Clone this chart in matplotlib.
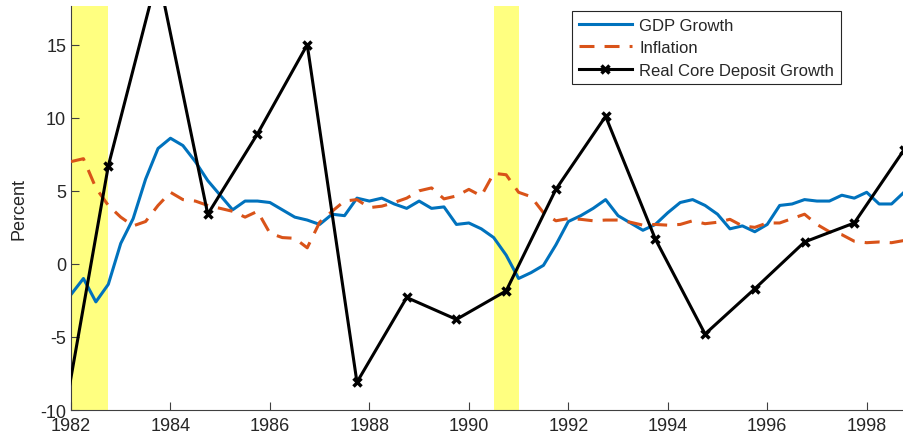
import numpy as np
import matplotlib
matplotlib.use("Agg")
import matplotlib.pyplot as plt

# quarterly series, 1982Q1 .. 1998Q4
gdp_growth = [-2.1, -1.0, -2.6, -1.4, 1.4, 3.1, 5.8, 7.9, 8.6, 8.1, 7.0, 5.7,
              4.7, 3.7, 4.3, 4.3, 4.2, 3.7, 3.2, 3.0, 2.7, 3.4, 3.3, 4.5,
              4.3, 4.5, 4.1, 3.8, 4.3, 3.8, 3.9, 2.7, 2.8, 2.4, 1.8, 0.6,
              -1.0, -0.6, -0.1, 1.3, 2.9, 3.3, 3.8, 4.4, 3.3, 2.8, 2.3, 2.7,
              3.5, 4.2, 4.4, 4.0, 3.4, 2.4, 2.6, 2.2, 2.7, 4.0, 4.1, 4.4,
              4.3, 4.3, 4.7, 4.5, 4.9, 4.1, 4.1, 4.9]
inflation = [7.0, 7.2, 5.2, 4.0, 3.2, 2.6, 2.9, 4.0, 4.9, 4.4, 4.3, 4.0,
             3.8, 3.6, 3.2, 3.6, 2.1, 1.8, 1.75, 1.1, 2.85, 3.6, 4.3, 4.4,
             3.85, 3.95, 4.2, 4.5, 5.0, 5.2, 4.45, 4.65, 5.1, 4.65, 6.2, 6.1,
             4.9, 4.6, 3.5, 2.95, 3.1, 3.05, 2.95, 3.0, 3.0, 2.85, 2.65, 2.7,
             2.65, 2.7, 2.95, 2.75, 2.85, 3.05, 2.6, 2.5, 2.8, 2.8, 3.1, 3.4,
             2.7, 2.2, 2.0, 1.55, 1.45, 1.5, 1.45, 1.6]
quarters = 1982 + np.arange(len(gdp_growth)) * 0.25

# annual (Q4) real core deposit growth
dep_years = [1981.75, 1982.75, 1983.75, 1984.75, 1985.75, 1986.75, 1987.75,
             1988.75, 1989.75, 1990.75, 1991.75, 1992.75, 1993.75, 1994.75,
             1995.75, 1996.75, 1997.75, 1998.75]
dep_growth = [-12.6, 6.7, 19.9, 3.4, 8.9, 15.0, -8.1, -2.3, -3.8, -1.85,
              5.1, 10.1, 1.7, -4.8, -1.7, 1.5, 2.8, 7.8]

recessions = [(1981.5, 1982.75), (1990.5, 1991.0)]

plt.rcParams['font.family'] = ['Liberation Sans', 'DejaVu Sans']
plt.rcParams['axes.unicode_minus'] = False
txt = '#262626'

fig = plt.figure(figsize=(9.04, 4.39), dpi=100)
ax = fig.add_axes([71/904, 28/439, 1 - 71/904, (411-7)/439])

for a, b in recessions:
    ax.axvspan(a, b, color='#ffff80', lw=0, zorder=0)

ax.plot(quarters, gdp_growth, color='#0072BD', lw=2.2, label='GDP Growth', zorder=2)
ax.plot(quarters, inflation, color='#D95319', lw=2.2, dashes=(4.9, 3.3),
        label='Inflation', zorder=3)
ax.plot(dep_years, dep_growth, color='black', lw=2.2, marker='x', ms=6, mew=2.5,
        label='Real Core Deposit Growth', zorder=4)

ax.set_xlim(1982, 1998.75)
ax.set_ylim(-10, 17.65)
ax.set_xticks(np.arange(1982, 1999, 2))
ax.set_yticks(np.arange(-10, 16, 5))
ax.set_ylabel('Percent', fontsize=13, color=txt, labelpad=9)
ax.tick_params(direction='in', length=6, width=0.8, colors='#404040',
               labelcolor=txt, labelsize=13)
ax.tick_params(axis='x', pad=5)
for s in ['top', 'right']:
    ax.spines[s].set_visible(False)
for s in ['left', 'bottom']:
    ax.spines[s].set_color('#404040')
    ax.spines[s].set_linewidth(0.8)

leg = ax.legend(loc='upper right', bbox_to_anchor=(0.924, 0.988), borderaxespad=0,
                fontsize=12, handlelength=3.2, handletextpad=0.42, labelspacing=0.45,
                borderpad=0.4, fancybox=False, framealpha=1, edgecolor='#262626')
leg.get_frame().set_linewidth(0.8)
for t in leg.get_texts():
    t.set_color(txt)

plt.savefig('out.png', dpi=100)
